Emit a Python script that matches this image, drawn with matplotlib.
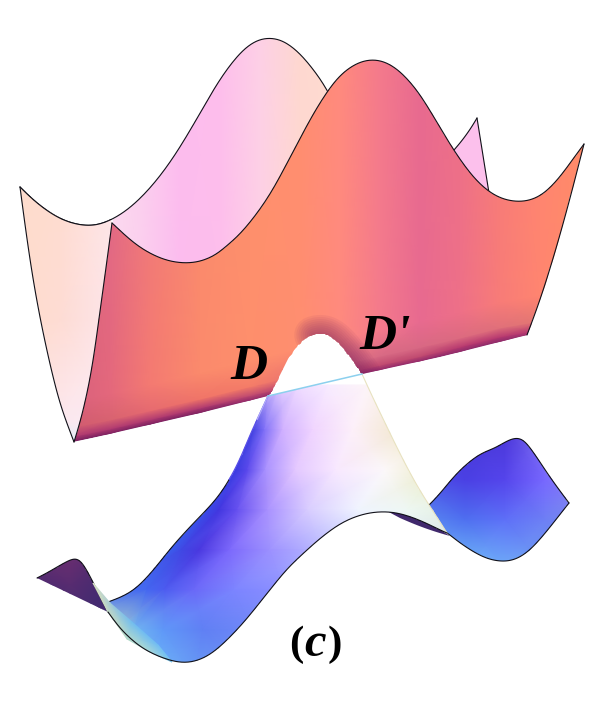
import numpy as np
import matplotlib
matplotlib.use('Agg')
import matplotlib.pyplot as plt
from matplotlib.colors import to_rgb
from matplotlib.patches import Polygon

# outlines in pixels
panel_left_x = [20, 30, 39, 53, 63, 74]
panel_left_y = [187, 263, 313, 380, 413, 442]
panel_right_x = [74, 87, 95, 103, 112]
panel_right_y = [442, 400, 347, 290, 223]
back_top_x = [20, 43, 67, 88, 112, 140, 163, 187, 207, 230, 250, 268, 287, 300, 317, 328]
back_top_y = [187, 210, 222, 227, 222, 200, 173, 137, 100, 63, 43, 36, 42, 54, 73, 92]
frag_top_x = [454, 467, 477]
frag_top_y = [150, 135, 118]
frag_right_x = [477, 489]
frag_right_y = [118, 193]
front_top_x = [112, 130, 153, 180, 203, 220, 233, 257, 280, 300, 317, 333, 350, 372, 390, 410,
               427, 443, 460, 477, 493, 513, 533, 550, 567, 584]
front_top_y = [223, 240, 257, 264, 262, 252, 240, 217, 177, 138, 107, 83, 65, 58, 63, 80,
               105, 133, 160, 182, 195, 203, 200, 190, 167, 144]
front_right_x = [584, 552, 527]
front_right_y = [144, 270, 335]
front_botl_x = [527, 440, 362]
front_botl_y = [335, 357, 374]
notch_x = [362, 357, 347, 333, 320, 303, 290, 280, 272, 268]
notch_y = [374, 367, 353, 336, 332, 338, 355, 375, 393, 396]
front_botr_x = [268, 200, 75]
front_botr_y = [396, 413, 442]

low_left_x = [268, 257, 243, 230, 207, 183, 163, 143, 127, 108]
low_left_y = [396, 420, 450, 483, 510, 533, 558, 583, 595, 602]
low_bot_x = [108, 127, 150, 173, 197, 217, 237, 257, 277, 297, 317, 333, 357, 383, 410, 433, 447]
low_bot_y = [612, 639, 652, 663, 663, 650, 630, 607, 580, 558, 542, 527, 515, 510, 515, 527, 533]
low_right_x = [447, 428, 413, 397, 377, 362]
low_right_y = [533, 503, 480, 447, 407, 374]
lobe_top_x = [429, 447, 468, 487, 503, 517, 527, 540, 557, 569]
lobe_top_y = [505, 487, 458, 453, 443, 436, 442, 463, 487, 503]
lobe_bot_x = [569, 550, 533, 517, 497, 473, 453, 447]
lobe_bot_y = [503, 527, 548, 560, 563, 553, 537, 533]
flap_top_x = [37, 57, 73, 82, 93, 108]
flap_top_y = [578, 568, 557, 560, 583, 612]
sliver_top_x = [385, 410, 433, 450]
sliver_top_y = [510, 514, 525, 536]
sliver_bot_x = [450, 425, 400]
sliver_bot_y = [536, 529, 518]
fold_a_x = [93, 108, 127, 150, 172]
fold_a_y = [583, 612, 639, 652, 662]
fold_b_x = [93, 110, 132, 158, 172]
fold_b_y = [583, 603, 622, 645, 662]

# colour tables
panel_gx = [15, 60, 115]
panel_gy = [180, 320, 420, 445]
panel_colors = [['#fedccc', '#fedcd0', '#fde6e8'],
                ['#fedccc', '#fedcd4', '#fde6ec'],
                ['#fde4e0', '#fce8ee', '#fbecf6'],
                ['#f8f0ff', '#d8f0f8', '#f8f0ff']]
back_gx = [105, 140, 180, 220, 260, 300, 335]
back_gy = [30, 280]
back_colors = [['#fcdcf0', '#fbd0ee', '#fcbcee', '#fdbeec', '#fdd0e6', '#fed8d0', '#fedcd0'],
               ['#fcdcf0', '#fbd0ee', '#fcbcee', '#fdbeec', '#fdd0e6', '#fed8d0', '#fedcd0']]
front_gx = [70, 110, 150, 200, 250, 300, 340, 380, 420, 460, 500, 540, 590]
front_gd = [0, 5, 14, 40, 420]
front_colors = [['#7a2060'] * 4 + ['#90286a'] * 5 + ['#8a2a6a'] * 4,
                ['#b03a70'] * 4 + ['#c04a70'] * 5 + ['#b83a70'] * 4,
                ['#d05a70', '#d86270', '#e66a70', '#f07468', '#f47c68', '#ec7470', '#e07080', '#d86a84',
                 '#d86884', '#dc6a80', '#e0707a', '#e47872', '#ea7c68'],
                ['#d8607c', '#e4687c', '#f47a72', '#fb8a6c', '#fe8f6c', '#ff8e70', '#ff8a7e', '#f47a8c',
                 '#e86a90', '#ee7088', '#f87c78', '#ff8570', '#ff8c68'],
                ['#d8607c', '#e06a90', '#ee7a80', '#fb8a6c', '#fe8f6c', '#ff8e70', '#ff8a7e', '#f47a8c',
                 '#e86a90', '#ee7088', '#f87c78', '#ff8570', '#ff8c68']]
low_gy = [385, 430, 470, 510, 550, 590, 630, 680]
low_gd = [0, 12, 30, 60, 100, 150, 200, 300]
low_colors = [['#c8b0ff', '#e8d0ff', '#f0dcff', '#f8ecff', '#fdf5f8', '#f4ecd0', '#f4ecd0', '#f4ecd0'],
              ['#4040e0', '#8070f8', '#d0b0ff', '#f0d4ff', '#fdf0fa', '#f2e8cc', '#f2e8cc', '#f2e8cc'],
              ['#3a3ae0', '#5a48ec', '#a890ff', '#e4c8ff', '#f8e8ff', '#fcf8fa', '#ecebc4', '#ecebc4'],
              ['#3a4ae8', '#4236e0', '#6650f0', '#a890ff', '#d8ccff', '#f0f4ff', '#eef8f4', '#d8e6c8'],
              ['#3a60ee', '#4048e4', '#4a38e0', '#7c68fc', '#9c90ff', '#b8b8ff', '#d8e0ff', '#e0f0f0'],
              ['#4478f0', '#4468f0', '#4c5cf0', '#6a68f8', '#7c84ff', '#8c90ff', '#a8a8ff', '#c8c8ff'],
              ['#c8dcc0', '#a8d0d0', '#72b8f0', '#5f98f8', '#6080f4', '#7088f8', '#9090ff', '#b0b0ff'],
              ['#c8e0c8', '#b8d8c8', '#90d0e0', '#74c0f8', '#68a0f4', '#6a8cf4', '#8090ff', '#a0a0ff']]
lobe_gx = [420, 465, 505, 545, 580]
lobe_gy = [430, 480, 520, 570]
lobe_colors = [['#4a3fe0', '#4a38d8', '#4a35d8', '#8070f0', '#8a80f0'],
               ['#4a55e8', '#4a40e4', '#5545ec', '#7868ff', '#8f88f0'],
               ['#5a8cf0', '#4f70f0', '#5e70f8', '#6e80f5', '#7888f0'],
               ['#7cc8f8', '#72c0f8', '#70b0f8', '#6a98f0', '#6a98f0']]
flap_gx = [30, 70, 115]
flap_gy = [550, 585, 620]
flap_colors = [['#6a2e70', '#6e2e70', '#4a2a70'],
               ['#4a2a70', '#582c70', '#402a70'],
               ['#3f2a70', '#3f2a70', '#3f2a70']]
fold_colors = [['#e0e4c0', '#c4d8c4', '#b8dcc8', '#a8d8d8', '#78c4f0'],
               ['#e0e4c0', '#a0c8d8', '#70bcf0', '#70bcf4', '#78c4f0']]

label_d = 'D'
label_dp = "D'"
label_paren = ['(', ')']
label_c = 'c'


def smooth(xs, ys, n=14):
    # catmull-rom through the read points, then a short running mean to take out reading wobble
    p = np.column_stack([xs, ys]).astype(float)
    if len(p) < 3:
        return p
    p = np.vstack([2 * p[0] - p[1], p, 2 * p[-1] - p[-2]])
    out = []
    for i in range(1, len(p) - 2):
        t = np.linspace(0, 1, n, endpoint=False)[:, None]
        out.append(0.5 * (2 * p[i] + (p[i + 1] - p[i - 1]) * t
                          + (2 * p[i - 1] - 5 * p[i] + 4 * p[i + 1] - p[i + 2]) * t ** 2
                          + (3 * p[i] - p[i - 1] - 3 * p[i + 1] + p[i + 2]) * t ** 3))
    out.append(p[-2:-1])
    d = np.vstack(out)
    w = n
    k = np.ones(2 * w + 1) / (2 * w + 1)
    pad_a = 2 * d[0] - d[1:w + 1][::-1]
    pad_b = 2 * d[-1] - d[-w - 1:-1][::-1]
    full = np.vstack([pad_a, d, pad_b])
    return np.column_stack([np.convolve(full[:, j], k, mode='valid') for j in range(2)])


def rgb(table):
    return np.array([[to_rgb(c) for c in row] for row in table])


def sheet(gx, gy, table, outline, z):
    # gouraud coloured grid cut to the outline
    X, Y = np.meshgrid(gx, gy) if np.ndim(gy) == 1 else (gx, gy)
    m = ax.pcolormesh(X, Y, rgb(table), shading='gouraud', zorder=z)
    clip = Polygon(outline, closed=True, transform=ax.transData, fc='none', ec='none')
    ax.add_patch(clip)
    m.set_clip_path(clip)
    return clip


def edge(line, z, lw=0.8, c='#101018'):
    ax.plot(line[:, 0], line[:, 1], color=c, lw=lw, zorder=z, solid_capstyle='round')


fig = plt.figure(figsize=(6, 7.01), dpi=100)
ax = fig.add_axes([0, 0, 1, 1])
ax.set_xlim(0, 600)
ax.set_ylim(701, 0)
ax.axis('off')

# back sheet
back_line = smooth(back_top_x, back_top_y)
back_top = back_line[back_line[:, 0] >= 112]
sheet(back_gx, back_gy, back_colors, np.vstack([back_top, [[328, 285], [112, 285]]]), 1)
edge(back_line, 2)

frag_top = smooth(frag_top_x, frag_top_y)
frag_right = np.column_stack([frag_right_x, frag_right_y])
ax.add_patch(Polygon(np.vstack([frag_top, frag_right, [[470, 180]]]), fc='#fcc0ec', ec='none', zorder=1))
edge(frag_top, 2)
edge(frag_right, 2)

# left end of the upper sheet
panel_l = smooth(panel_left_x, panel_left_y)
panel_r = smooth(panel_right_x, panel_right_y)
panel_t = back_line[back_line[:, 0] <= 112]
sheet(panel_gx, panel_gy, panel_colors, np.vstack([panel_l, panel_r, panel_t[::-1]]), 3)
edge(panel_l, 4)
edge(panel_t, 4)

# front of the upper sheet, rows run along the lower edge
ftop = smooth(front_top_x, front_top_y)
fright = smooth(front_right_x, front_right_y)
fbl = np.column_stack([front_botl_x, front_botl_y])
fnotch = smooth(notch_x, notch_y, n=10)
fbr = np.column_stack([front_botr_x, front_botr_y])
front_outline = np.vstack([ftop, fright, fbl, fnotch, fbr, panel_r])
gx = np.array(front_gx, float)
base = np.interp(gx, front_botr_x[::-1] + front_botl_x[::-1], front_botr_y[::-1] + front_botl_y[::-1])
FX = np.tile(gx, (len(front_gd), 1))
FY = np.array([base - d for d in front_gd])
clip = sheet(FX, FY, front_colors, front_outline, 5)
for w in range(3, 30, 3):
    ln, = ax.plot(fnotch[:45, 0], fnotch[:45, 1], color='#7a2060', lw=w, alpha=0.07, zorder=6,
                  solid_capstyle='round')
    ln.set_clip_path(clip)
edge(ftop, 7)
edge(fright, 7)
edge(panel_r, 7)

# lower sheet
lobe_t = smooth(lobe_top_x, lobe_top_y)
lobe_b = smooth(lobe_bot_x, lobe_bot_y)
sheet(lobe_gx, lobe_gy, lobe_colors, np.vstack([lobe_t, lobe_b]), 8)
edge(lobe_t, 9)
edge(lobe_b, 9)

flap_t = smooth(flap_top_x, flap_top_y)
sheet(flap_gx, flap_gy, flap_colors, flap_t, 8)
edge(flap_t, 9)

ax.add_patch(Polygon(np.vstack([smooth(sliver_top_x, sliver_top_y), smooth(sliver_bot_x, sliver_bot_y)]),
                     fc='#40286c', ec='none', zorder=8))

low_l = smooth(low_left_x, low_left_y)
low_b = smooth(low_bot_x, low_bot_y)
low_r = smooth(low_right_x, low_right_y)
# columns of the colour grid hang off the left edge of the sheet
edge_at = np.interp(low_gy, low_left_y + [700], low_left_x + [90])
LX = np.array([edge_at + d for d in low_gd]).T
LX[5:, 0] -= 35
LY = np.tile(np.array(low_gy, float)[:, None], (1, len(low_gd)))
sheet(LX, LY, low_colors, np.vstack([low_l, low_b, low_r]), 10)
edge(low_l[low_l[:, 1] > 478], 11)
top_part = low_l[low_l[:, 1] <= 480]
ax.plot(top_part[:, 0], top_part[:, 1], color='#5a50e8', lw=0.9, zorder=11)
upper_bit = low_l[low_l[:, 1] <= 420]
ax.plot(upper_bit[:, 0], upper_bit[:, 1], color='#b0a8fa', lw=1.0, zorder=11)
ax.plot(low_r[:, 0], low_r[:, 1], color='#e8e2c0', lw=0.8, zorder=11)
ax.plot([268, 362], [396, 374], color='#8cd0ee', lw=1.1, zorder=11)

fold = np.array([fold_a_x, fold_b_x]), np.array([fold_a_y, fold_b_y])
ax.pcolormesh(fold[0], fold[1], rgb(fold_colors), shading='gouraud', zorder=11)
edge(low_b, 12)

# labels
serif = 'Liberation Serif'
ax.text(248.5, 379, label_d, family=serif, weight='bold', style='italic', fontsize=37, ha='center', va='baseline', zorder=13)
ax.text(385, 349, label_dp, family=serif, weight='bold', style='italic', fontsize=37, ha='center', va='baseline', zorder=13)
ax.text(296, 655, label_paren[0], family=serif, weight='bold', fontsize=31, ha='center', va='baseline', zorder=13)
ax.text(315, 656, label_c, family=serif, weight='bold', style='italic', fontsize=35, ha='center', va='baseline', zorder=13)
ax.text(335, 655, label_paren[1], family=serif, weight='bold', fontsize=31, ha='center', va='baseline', zorder=13)

fig.savefig('out.png', dpi=100, facecolor='white')
